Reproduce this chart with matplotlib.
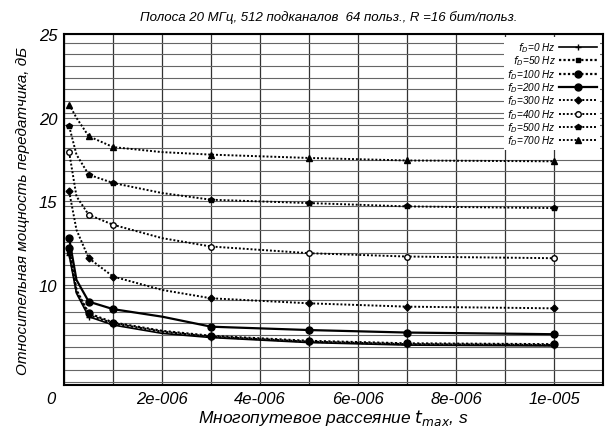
# Relative transmitter power vs multipath spread, for several Doppler spreads

import numpy as np
import matplotlib.pyplot as plt
from matplotlib.ticker import MultipleLocator

plt.rcParams['font.family'] = ['Liberation Sans', 'DejaVu Sans']
plt.rcParams['font.style'] = 'italic'

# multipath spread, s
tau = [1e-7, 2.5e-7, 5e-7, 1e-6, 2e-6, 3e-6, 5e-6, 7e-6, 1e-5]

# relative power, dB, for each Doppler spread
p0 = [11.8, 9.5, 8.1, 7.6, 7.1, 6.85, 6.55, 6.4, 6.35]
p50 = [12.0, 9.6, 8.2, 7.7, 7.2, 6.9, 6.6, 6.45, 6.4]
p100 = [12.2, 9.7, 8.3, 7.75, 7.25, 6.95, 6.65, 6.5, 6.45]
p200 = [12.8, 10.3, 9.0, 8.55, 8.1, 7.5, 7.3, 7.15, 7.05]
p300 = [15.6, 13.3, 11.6, 10.5, 9.7, 9.2, 8.9, 8.7, 8.6]
p400 = [17.95, 15.3, 14.2, 13.6, 12.8, 12.3, 11.9, 11.7, 11.6]
p500 = [19.5, 17.8, 16.6, 16.1, 15.5, 15.1, 14.9, 14.7, 14.6]
p700 = [20.8, 20.0, 18.9, 18.25, 17.95, 17.8, 17.6, 17.45, 17.4]

labels = ['$f_D$=0 Hz', '$f_D$=50 Hz', '$f_D$=100 Hz', '$f_D$=200 Hz',
          '$f_D$=300 Hz', '$f_D$=400 Hz', '$f_D$=500 Hz', '$f_D$=700 Hz']
xticks = [2e-6, 4e-6, 6e-6, 8e-6, 1e-5]
xticklabels = ['2e-006', '4e-006', '6e-006', '8e-006', '1e-005']
yticks = [10, 15, 20, 25]

dots = (0, (1, 1))
styles = [
    dict(ls='-', lw=1.2, marker='+', ms=4),
    dict(ls=dots, lw=1.6, marker='s', ms=3),
    dict(ls=dots, lw=1.6, marker='o', ms=5),
    dict(ls='-', lw=1.6, marker='o', ms=5),
    dict(ls=dots, lw=1.4, marker='D', ms=3.5),
    dict(ls=dots, lw=1.4, marker='o', ms=4, mfc='white'),
    dict(ls=dots, lw=1.4, marker='p', ms=4),
    dict(ls=dots, lw=1.4, marker='^', ms=4),
]

fig = plt.figure(figsize=(6.06, 4.31), dpi=100)
ax = fig.add_axes([0.106, 0.104, 0.889, 0.814])

series = [p0, p50, p100, p200, p300, p400, p500, p700]
for p, lab, st in zip(series, labels, styles):
    ax.plot(tau, p, color='black', label=lab, markevery=[0, 2, 3, 5, 6, 7, 8], **st)

ax.set_xlim(0, 1.1e-5)
ax.set_ylim(4, 25)
ax.set_xticks(xticks)
ax.set_xticklabels(xticklabels, fontsize=12)
ax.set_yticks(yticks)
ax.set_yticklabels([str(v) for v in yticks], fontsize=12)
ax.xaxis.set_minor_locator(MultipleLocator(1e-6))
ax.yaxis.set_minor_locator(MultipleLocator(0.7))
ax.tick_params(which='both', length=0)
ax.tick_params(axis='x', pad=4)
ax.tick_params(axis='y', pad=5)
ax.grid(which='both', axis='x', color='0.2', lw=0.9)
ax.grid(which='both', axis='y', color='0.4', lw=0.8)
for s in ax.spines.values():
    s.set_linewidth(1.5)

ax.text(-0.017, -0.016, '0', transform=ax.transAxes, ha='right', va='top', fontsize=12)

ax.set_title('Полоса 20 МГц, 512 подканалов  64 польз., R =16 бит/польз.',
             fontsize=9.5, pad=10, x=0.49)
ax.set_xlabel('Многопутевое рассеяние $t_{max}$, s', fontsize=12.5, labelpad=1)
ax.set_ylabel('Относительная мощность передатчика, дБ', fontsize=11, labelpad=6)

leg = ax.legend(loc='upper right', fontsize=7.2, markerfirst=False, frameon=True,
                fancybox=False, edgecolor='none', framealpha=1, borderaxespad=0.3,
                handlelength=3.8, labelspacing=-0.05, handletextpad=0.3,
                handleheight=0.5, borderpad=0.3)

fig.savefig('out.png', dpi=100)
